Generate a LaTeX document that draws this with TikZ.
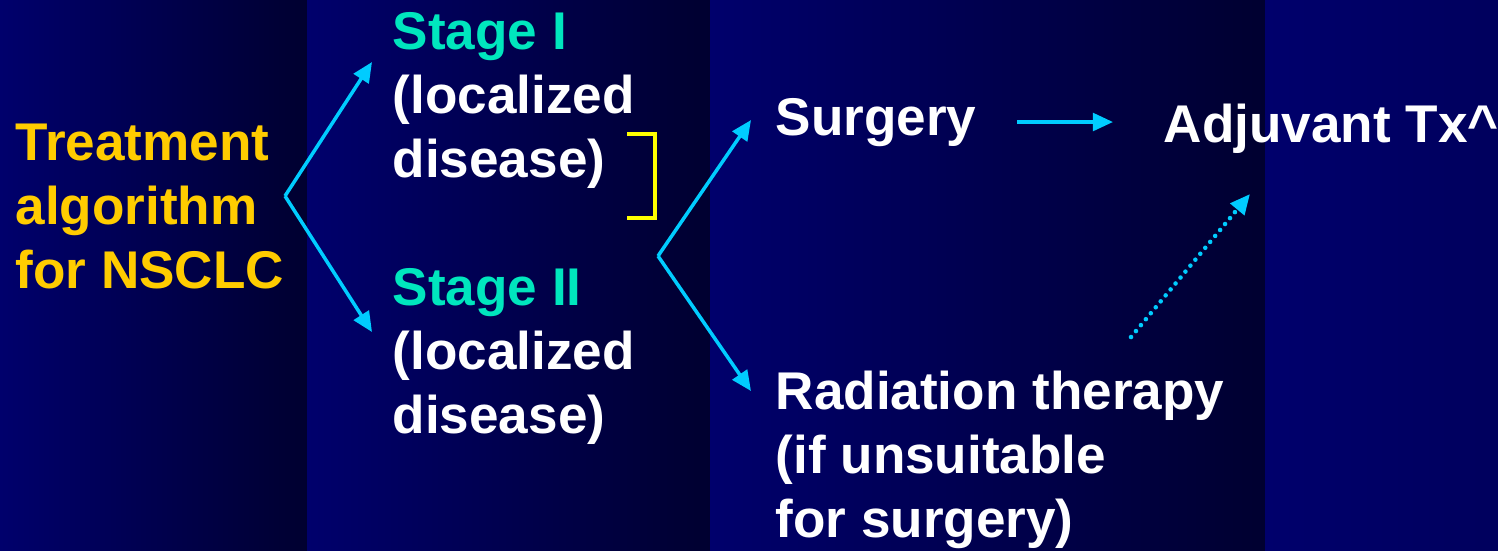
\documentclass[tikz,border=0pt]{standalone}
\usepackage{fontspec}
\setmainfont{Liberation Sans}
\usepackage{tikz}
\usetikzlibrary{arrows.meta,positioning}
\definecolor{navyband}{HTML}{00006C}
\definecolor{nightband}{HTML}{000030}
\definecolor{skyline}{HTML}{00CCFF}
\definecolor{aqua}{HTML}{00E6BE}
\definecolor{amber}{HTML}{FFCC00}
\definecolor{lemon}{HTML}{FFFF00}

\begin{document}
\begin{tikzpicture}[x=0.01cm,y=-0.01cm,
    txt/.style={anchor=base west,inner sep=0pt,align=left,text=white,
                font=\fontsize{15.1}{18.2}\selectfont\bfseries},
    flow/.style={draw=skyline,line width=1pt,
                 -{Triangle[length=5.7pt,width=5pt]}},
    band/.style={left color=navyband,right color=nightband}]
  \useasboundingbox (0,0) rectangle (1498,550);
  % background bands
  \fill[band] (0,0) rectangle (307,550);
  \fill[band] (307,0) rectangle (710,550);
  \fill[band] (710,0) rectangle (1265,550);
  \fill[left color=navyband,right color=navyband!75!nightband] (1265,0) rectangle (1498,550);

  % base anchor sits on the last line
  \node[txt,text=amber] (algo) at (15,288) {Treatment\\algorithm\\for NSCLC};
  \node[txt] (stage1) at (392,177) {\textcolor{aqua}{Stage I}\\(localized\\disease)};
  \node[txt] (stage2) at (392,433) {\textcolor{aqua}{Stage II}\\(localized\\disease)};
  \node[txt] (surgery) at (775,135) {Surgery};
  \node[txt] (adjuvant) at (1163,142) {Adjuvant Tx\textasciicircum};
  \node[txt] (radiation) at (775,537) {Radiation therapy\\(if unsuitable\\for surgery)};

  \coordinate (split1) at (285,196);
  \coordinate (split2) at (658,256);
  \draw[flow] (split1) -- (372,62);
  \draw[flow] (split1) -- (372,332);
  \draw[flow] (split2) -- (751,120);
  \draw[flow] (split2) -- (751,391);
  \draw[flow] (1017,122) -- (1113,122);
  \draw[flow,line width=1.3pt,line cap=round,dash pattern=on 0pt off 2.2pt] (1131,337) -- (1250,194);
  % bracket joining both stages
  \draw[lemon,line width=0.9pt] (627,134) -- (655,134) -- (655,218) -- (627,218);
\end{tikzpicture}
\end{document}
